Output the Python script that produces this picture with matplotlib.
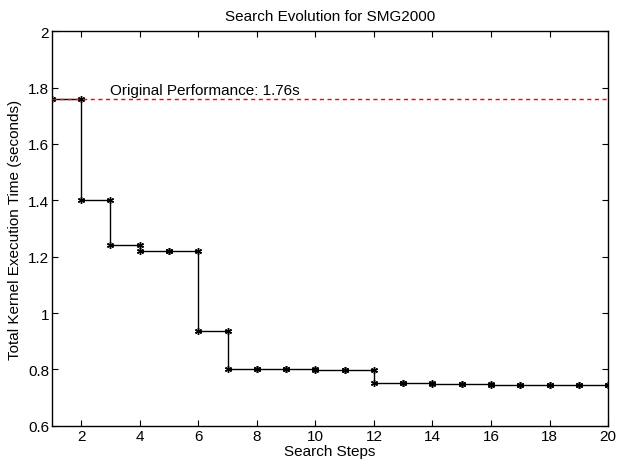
import matplotlib
matplotlib.use("Agg")
import matplotlib.pyplot as plt
import numpy as np

plt.rcParams['font.family'] = ['Liberation Sans', 'DejaVu Sans']

# best kernel time found after each search step
steps = list(range(1, 21))
times = [1.76, 1.40, 1.24, 1.22, 1.22, 0.935, 0.80, 0.80, 0.80, 0.797,
         0.797, 0.753, 0.752, 0.750, 0.750, 0.745, 0.745, 0.745, 0.745, 0.745]
original = 1.76

xticks = list(range(2, 21, 2))
yticks = [0.6, 0.8, 1.0, 1.2, 1.4, 1.6, 1.8, 2.0]
ytick_labels = ["0.6", "0.8", "1", "1.2", "1.4", "1.6", "1.8", "2"]

fig = plt.figure(figsize=(6.18, 4.6), dpi=100)
ax = fig.add_axes([0.084, 0.072, 0.900, 0.858])

# MATLAB-like stairs: every corner gets a marker
sx = [steps[0]]
sy = [times[0]]
for i in range(1, len(steps)):
    sx += [steps[i], steps[i]]
    sy += [times[i - 1], times[i]]
ax.plot(sx, sy, color='black', linewidth=1.0, marker=(6, 2, 0), markersize=5,
        markeredgewidth=1.0)

ax.plot([steps[0], steps[-1]], [original, original], color='#ff0000',
        linestyle='--', linewidth=1.0, dashes=(3, 2.5), zorder=3)
ax.text(3, original + 0.008, "Original Performance: %.2fs" % original,
        fontsize=11, va='bottom', ha='left')

ax.set_xlim(1, 20)
ax.set_ylim(0.6, 2)
ax.set_xticks(xticks)
ax.set_yticks(yticks)
ax.set_yticklabels(ytick_labels)
ax.tick_params(direction='in', top=True, right=True, labelsize=11, length=4, pad=2)
for s in ax.spines.values():
    s.set_linewidth(1.0)

ax.set_title("Search Evolution for SMG2000", fontsize=11, pad=8)
ax.set_xlabel("Search Steps", fontsize=11, labelpad=1)
ax.set_ylabel("Total Kernel Execution Time (seconds)", fontsize=11, labelpad=4)

fig.savefig("out.png", dpi=100)
